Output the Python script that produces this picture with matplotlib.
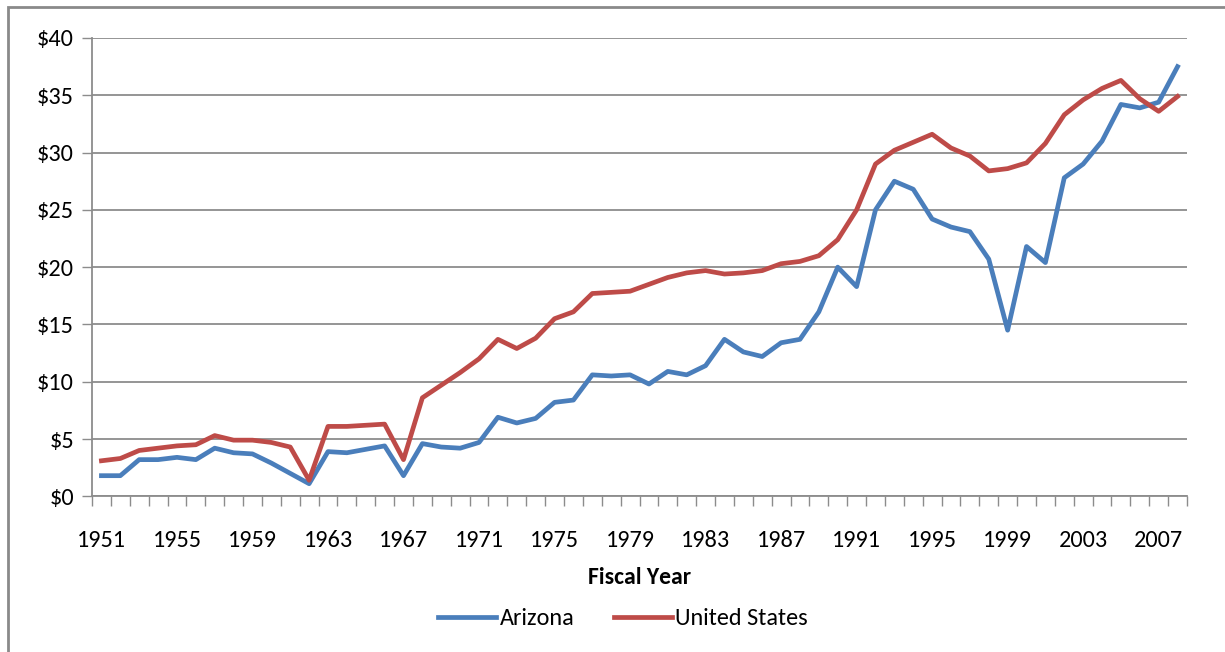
import matplotlib.pyplot as plt
from matplotlib.patches import Rectangle
import numpy as np

plt.rcParams['font.family'] = ['Carlito', 'Lato', 'DejaVu Sans']

years = list(range(1951, 2009))

arizona = [1.8, 1.8, 3.2, 3.2, 3.4, 3.2, 4.2, 3.8, 3.7, 2.9,
           2.0, 1.1, 3.9, 3.8, 4.1, 4.4, 1.8, 4.6, 4.3, 4.2,
           4.7, 6.9, 6.4, 6.8, 8.2, 8.4, 10.6, 10.5, 10.6, 9.8,
           10.9, 10.6, 11.4, 13.7, 12.6, 12.2, 13.4, 13.7, 16.1, 20.0,
           18.3, 25.0, 27.5, 26.8, 24.2, 23.5, 23.1, 20.7, 14.5, 21.8,
           20.4, 27.8, 29.0, 31.0, 34.2, 33.9, 34.4, 37.5]

united_states = [3.1, 3.3, 4.0, 4.2, 4.4, 4.5, 5.3, 4.9, 4.9, 4.7,
                 4.3, 1.4, 6.1, 6.1, 6.2, 6.3, 3.2, 8.6, 9.7, 10.8,
                 12.0, 13.7, 12.9, 13.8, 15.5, 16.1, 17.7, 17.8, 17.9, 18.5,
                 19.1, 19.5, 19.7, 19.4, 19.5, 19.7, 20.3, 20.5, 21.0, 22.4,
                 25.0, 29.0, 30.2, 30.9, 31.6, 30.4, 29.7, 28.4, 28.6, 29.1,
                 30.8, 33.3, 34.6, 35.6, 36.3, 34.7, 33.6, 34.9]

y_ticks = [0, 5, 10, 15, 20, 25, 30, 35, 40]

fig = plt.figure(figsize=(12.25, 6.52), dpi=100)
ax = fig.add_axes([92 / 1225, 155.7 / 652, 1095 / 1225, 458.3 / 652])

x = np.arange(len(years))
ax.plot(x, arizona, color='#4A7EBB', lw=3.4, label='Arizona', solid_joinstyle='round')
ax.plot(x, united_states, color='#BE4B48', lw=3.4, label='United States', solid_joinstyle='round')

ax.set_xlim(-0.5, len(years) - 0.5)
ax.set_ylim(0, 40)

# y axis
ax.set_yticks(y_ticks)
ax.set_yticklabels([f'${v}' for v in y_ticks])
ax.yaxis.grid(True, color='#8c8c8c', lw=1.3)
ax.set_axisbelow(True)
ax.tick_params(axis='y', length=7, width=1, color='#8c8c8c', labelsize=17.5, pad=6)

# x axis: labels every 4 years, ticks at category edges
ax.set_xticks(x[::4])
ax.set_xticklabels([str(y) for y in years[::4]])
ax.set_xticks(np.arange(-0.5, len(years)), minor=True)
ax.tick_params(axis='x', which='major', length=0, labelsize=17.5, pad=24)
ax.tick_params(axis='x', which='minor', length=7, width=1, color='#8c8c8c')

for side in ['top', 'right']:
    ax.spines[side].set_visible(False)
for side in ['left', 'bottom']:
    ax.spines[side].set_color('#8c8c8c')
    ax.spines[side].set_linewidth(1.3)

ax.set_xlabel('Fiscal Year', fontsize=17, fontweight='bold', labelpad=12)

leg = ax.legend(loc='upper center', bbox_to_anchor=(0.485, -0.196), ncol=2,
                frameon=False, fontsize=17.5, handlelength=2.4, handletextpad=0.15,
                columnspacing=1.6)

# outer chart frame (partially cropped)
fig.add_artist(Rectangle((8 / 1225, -0.2), 1.5, 1.2 - 7 / 652,
                         transform=fig.transFigure, fill=False,
                         edgecolor='#8a8a8a', lw=2))

fig.savefig('out.png', dpi=100)
